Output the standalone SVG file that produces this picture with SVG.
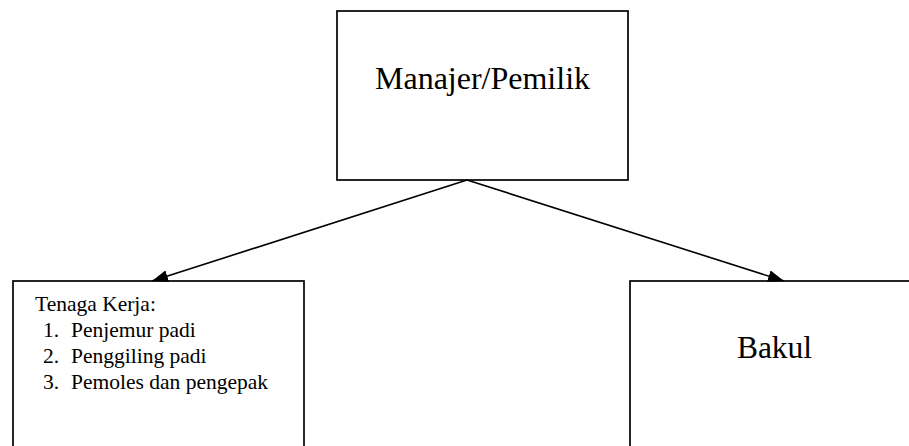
<svg xmlns="http://www.w3.org/2000/svg" width="909" height="446" viewBox="0 0 909 446">
<style>
.box{fill:#fff;stroke:#000;stroke-width:1.7}
.t{font-family:"Liberation Serif","Times New Roman",serif;fill:#000}
.s{font-size:21.5px}
.edge{stroke:#000;stroke-width:1.6;fill:none}
</style>
<defs>
<marker id="ah" markerUnits="userSpaceOnUse" markerWidth="18" markerHeight="12" refX="16" refY="6" orient="auto">
<path d="M0,0 L16,6 L0,12 Z" fill="#000"/>
</marker>
</defs>
<rect width="909" height="446" fill="#fff"/>
<g id="manajer">
<rect class="box" x="337" y="11" width="291" height="169"/>
<text class="t" x="482.5" y="89" font-size="32" text-anchor="middle">Manajer/Pemilik</text>
</g>
<g id="tenaga">
<rect class="box" x="13" y="281" width="291" height="180"/>
<text class="t s" x="35" y="311">Tenaga Kerja:</text>
<text class="t s" x="43" y="337">1.</text>
<text class="t s" x="71" y="337">Penjemur padi</text>
<text class="t s" x="43" y="363">2.</text>
<text class="t s" x="71" y="363">Penggiling padi</text>
<text class="t s" x="43" y="389">3.</text>
<text class="t s" x="71" y="389">Pemoles dan pengepak</text>
</g>
<g id="bakul">
<rect class="box" x="630" y="281" width="300" height="180"/>
<text class="t" x="774.5" y="358" font-size="31.5" text-anchor="middle">Bakul</text>
</g>
<g id="connectors">
<line class="edge" x1="467" y1="180" x2="152" y2="281" marker-end="url(#ah)"/>
<line class="edge" x1="467" y1="180" x2="784" y2="281" marker-end="url(#ah)"/>
</g>
</svg>
